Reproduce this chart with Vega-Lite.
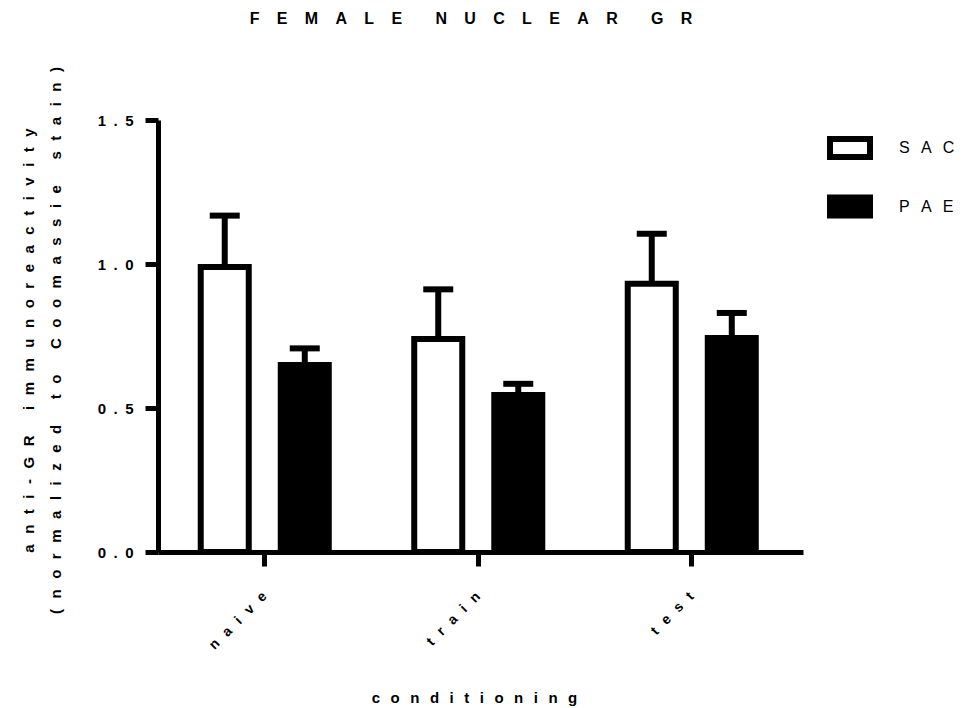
{
  "$schema": "https://vega.github.io/schema/vega-lite/v6.json",
  "autosize": "none",
  "padding": {"left": 158, "top": 120, "right": 171, "bottom": 156},
  "width": 645,
  "height": 432,
  "background": "white",
  "title": {
    "text": "F\u2003\u200aE\u2003\u200aM\u2003\u200aA\u2003\u200aL\u2003\u200aE\u2003\u2003\u200aN\u2003\u200aU\u2003\u200aC\u2003\u200aL\u2003\u200aE\u2003\u200aA\u2003\u200aR\u2003\u2003\u200aG\u2003\u200aR",
    "anchor": "middle",
    "frame": "group",
    "font": "Liberation Sans",
    "fontSize": 16,
    "fontWeight": "bold",
    "color": "black",
    "baseline": "alphabetic",
    "offset": 27,
    "dx": -9.5
  },
  "data": {
    "values": [
      {"condition": "naive", "group": "SAC", "mean": 0.99, "upper": 1.168},
      {"condition": "naive", "group": "PAE", "mean": 0.649, "upper": 0.707},
      {"condition": "train", "group": "SAC", "mean": 0.74, "upper": 0.912},
      {"condition": "train", "group": "PAE", "mean": 0.545, "upper": 0.584},
      {"condition": "test", "group": "SAC", "mean": 0.931, "upper": 1.105},
      {"condition": "test", "group": "PAE", "mean": 0.743, "upper": 0.83}
    ]
  },
  "encoding": {
    "x": {
      "field": "condition",
      "type": "nominal",
      "sort": ["naive", "train", "test"],
      "scale": {"paddingInner": 0, "paddingOuter": 0.0105, "align": 0},
      "axis": {
        "title": "c\u2002\u2009o\u2002\u2009n\u2002\u2009d\u2002\u2009i\u2002\u2009t\u2002\u2009i\u2002\u2009o\u2002\u2009n\u2002\u2009i\u2002\u2009n\u2002\u2009g",
        "titleFont": "Liberation Sans",
        "titleFontSize": 15,
        "titleFontWeight": "bold",
        "titleColor": "black",
        "titleBaseline": "alphabetic",
        "titleX": 316,
        "titleY": 150,
        "labelExpr": "join(split(datum.label, ''), '\u2002\u2009')",
        "labelAngle": -45,
        "labelAlign": "right",
        "labelBaseline": "middle",
        "labelPadding": 28,
        "labelFont": "Liberation Sans",
        "labelFontSize": 14,
        "labelFontWeight": "bold",
        "labelColor": "black",
        "domainColor": "black",
        "domainWidth": 5,
        "tickColor": "black",
        "tickWidth": 5,
        "tickSize": 14,
        "grid": false
      }
    },
    "xOffset": {
      "field": "group",
      "type": "nominal",
      "sort": ["SAC", "PAE"],
      "scale": {"paddingInner": 0.4, "paddingOuter": 0.534}
    },
    "y": {
      "field": "mean",
      "type": "quantitative",
      "scale": {"domain": [0, 1.5], "nice": false, "zero": true},
      "axis": {
        "values": [0, 0.5, 1, 1.5],
        "labelExpr": "join(split(format(datum.value, '.1f'), ''), '\u2002')",
        "labelFont": "Liberation Sans",
        "labelFontSize": 15,
        "labelFontWeight": "bold",
        "labelColor": "black",
        "labelPadding": 12,
        "domainColor": "black",
        "domainWidth": 5,
        "tickColor": "black",
        "tickWidth": 5,
        "tickSize": 13,
        "grid": false,
        "title": [
          "a\u2002\u2009n\u2002\u2009t\u2002\u2009i\u2002\u2009-\u2002\u2009G\u2002\u2009R\u2003\u2002\u2009i\u2002\u2009m\u2002\u2009m\u2002\u2009u\u2002\u2009n\u2002\u2009o\u2002\u2009r\u2002\u2009e\u2002\u2009a\u2002\u2009c\u2002\u2009t\u2002\u2009i\u2002\u2009v\u2002\u2009i\u2002\u2009t\u2002\u2009y",
          "(\u2002\u2009n\u2002\u2009o\u2002\u2009r\u2002\u2009m\u2002\u2009a\u2002\u2009l\u2002\u2009i\u2002\u2009z\u2002\u2009e\u2002\u2009d\u2003\u2002\u2009t\u2002\u2009o\u2003\u2002\u2009C\u2002\u2009o\u2002\u2009o\u2002\u2009m\u2002\u2009a\u2002\u2009s\u2002\u2009s\u2002\u2009i\u2002\u2009e\u2003\u2002\u2009s\u2002\u2009t\u2002\u2009a\u2002\u2009i\u2002\u2009n\u2002\u2009)"
        ],
        "titleFont": "Liberation Sans",
        "titleFontSize": 15,
        "titleFontWeight": "bold",
        "titleColor": "black",
        "titleLineHeight": 27,
        "titleBaseline": "middle",
        "titleX": -129.5,
        "titleY": 220
      }
    }
  },
  "layer": [
    {
      "mark": {"type": "rule", "strokeWidth": 6, "color": "black"},
      "encoding": {"y2": {"field": "upper"}}
    },
    {
      "mark": {"type": "tick", "orient": "horizontal", "size": 30, "thickness": 6, "color": "black", "opacity": 1},
      "encoding": {"y": {"field": "upper", "type": "quantitative"}}
    },
    {
      "mark": {"type": "bar", "stroke": "black", "strokeWidth": 6, "opacity": 1},
      "encoding": {
        "fill": {
          "field": "group",
          "type": "nominal",
          "sort": ["SAC", "PAE"],
          "scale": {"domain": ["SAC", "PAE"], "range": ["white", "black"]},
          "legend": {
            "orient": "none",
            "legendX": 669,
            "legendY": 5,
            "title": null,
            "padding": 0,
            "symbolType": "M-1,-0.45H1V0.45H-1Z",
            "symbolSize": 1600,
            "symbolStrokeColor": "black",
            "symbolStrokeWidth": 6,
            "symbolOpacity": 1,
            "labelFont": "Liberation Sans",
            "labelFontSize": 16,
            "labelColor": "black",
            "labelOffset": 26,
            "rowPadding": 14.5,
            "labelExpr": "join(split(datum.label, ''), '\u2002\u2009')"
          }
        }
      }
    }
  ],
  "config": {"view": {"stroke": null}}
}
